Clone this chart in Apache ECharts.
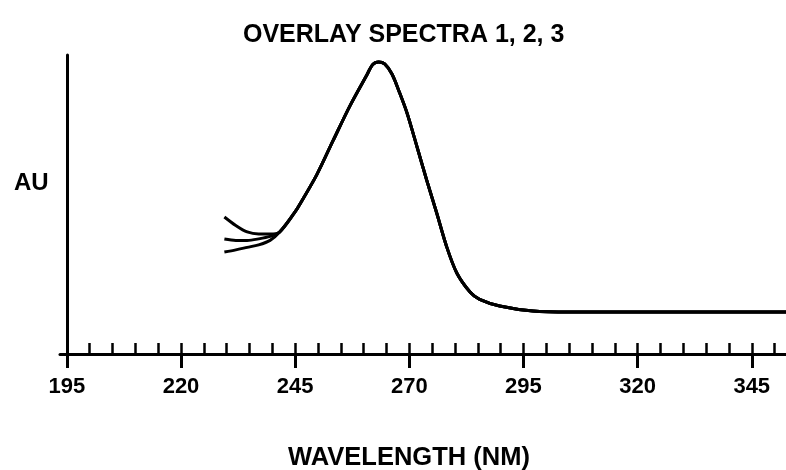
<!DOCTYPE html>
<html>
<head>
<meta charset="utf-8">
<script src="https://cdn.jsdelivr.net/npm/echarts@6/dist/echarts.min.js"></script>
<style>
  html, body { margin: 0; padding: 0; background: #fff; }
  #spectra { width: 786px; height: 470px; }
</style>
</head>
<body>
<div id="spectra"></div>
<script>
// wavelength tick labels (nm) and minor ticks
const majorTicks = [195, 220, 245, 270, 295, 320, 345];
const minorTicks = [195, 200, 205, 210, 215, 220, 225, 230, 235, 240, 245, 250, 255, 260, 265, 270,
  275, 280, 285, 290, 295, 300, 305, 310, 315, 320, 325, 330, 335, 340, 345, 350];

// the three spectra differ only at the short-wavelength start
const tailWl = [229.5, 232, 234.5, 237, 239.5, 241.6];
const spec1Tail = [1.375, 1.29, 1.225, 1.205, 1.205, 1.224];
const spec2Tail = [1.154, 1.14, 1.14, 1.155, 1.18, 1.224];
const spec3Tail = [1.023, 1.045, 1.07, 1.095, 1.14, 1.224];

// shared part of the curve
const sharedWl = [244.9, 246.0, 249.75, 253.3, 257.0, 260.7, 262.0, 263.3, 264.6, 266.2, 267.9, 269.5,
  271.7, 273.8, 276.0, 278.2, 280.4, 283.3, 285.4, 289.8, 297.1, 305.2, 352.5];
const sharedAu = [1.42, 1.50, 1.80, 2.14, 2.49, 2.80, 2.905, 2.930, 2.910, 2.809, 2.618, 2.418,
  2.077, 1.746, 1.415, 1.074, 0.813, 0.622, 0.548, 0.482, 0.431, 0.421, 0.421];

function buildSpectrum(tail) {
  let pts = [];
  for (let i = 0; i < tailWl.length; i++) pts.push([tailWl[i], tail[i]]);
  for (let i = 0; i < sharedWl.length; i++) pts.push([sharedWl[i], sharedAu[i]]);
  return pts;
}

let chart = echarts.init(document.getElementById("spectra"));
const font = "'Liberation Sans', Arial, sans-serif";
const lineSeries = (name, tail) => ({
  name: name,
  type: "line",
  data: buildSpectrum(tail),
  smooth: 0.3,
  showSymbol: false,
  lineStyle: { color: "#000", width: 3 },
  silent: true
});

let option = {
  animation: false,
  backgroundColor: "#fff",
  title: [
    {
      text: "OVERLAY SPECTRA 1, 2, 3",
      left: 238,
      top: 18,
      textStyle: { fontFamily: font, fontSize: 25, fontWeight: "bold", color: "#000" }
    },
    {
      text: "AU",
      left: 9,
      top: 166,
      textStyle: { fontFamily: font, fontSize: 24, fontWeight: "bold", color: "#000" }
    }
  ],
  grid: { left: 60, right: 0, top: 55, bottom: 116, outerBoundsMode: "none" },
  xAxis: [
    {
      type: "value",
      position: "bottom",
      min: 193.5,
      max: 352.5,
      axisLine: { show: true, lineStyle: { color: "#000", width: 3 } },
      axisTick: { show: true, customValues: majorTicks, length: 14, lineStyle: { color: "#000", width: 3 } },
      axisLabel: {
        customValues: majorTicks,
        margin: 22,
        fontFamily: font,
        fontSize: 22,
        fontWeight: "bold",
        color: "#000"
      },
      splitLine: { show: false },
      name: "WAVELENGTH (NM)",
      nameLocation: "middle",
      nameGap: 91,
      nameTextStyle: {
        fontFamily: font,
        fontSize: 25.5,
        fontWeight: "bold",
        color: "#000",
        padding: [0, 28, 0, 0]
      }
    },
    {
      type: "value",
      position: "bottom",
      min: 193.5,
      max: 352.5,
      axisLine: { show: false },
      axisTick: { show: true, inside: true, customValues: minorTicks, length: 11, lineStyle: { color: "#000", width: 2.5 } },
      axisLabel: { show: false },
      splitLine: { show: false }
    }
  ],
  yAxis: {
    type: "value",
    min: 0,
    max: 3,
    offset: -7,
    axisLine: { show: true, lineStyle: { color: "#000", width: 3 } },
    axisTick: { show: false },
    axisLabel: { show: false },
    splitLine: { show: false }
  },
  series: [
    lineSeries("Spectrum 1", spec1Tail),
    lineSeries("Spectrum 2", spec2Tail),
    lineSeries("Spectrum 3", spec3Tail)
  ]
};

chart.setOption(option);
</script>
</body>
</html>
